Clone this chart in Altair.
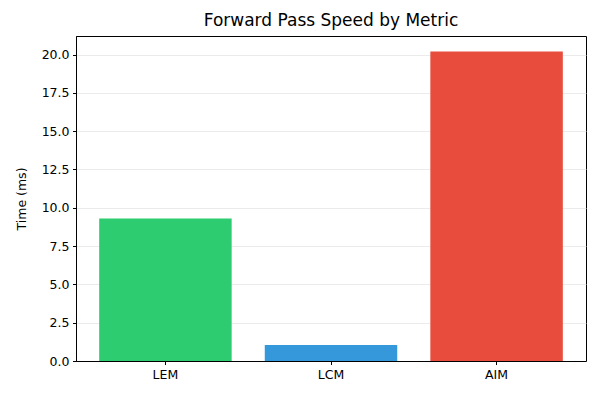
import altair as alt
import pandas as pd

metrics = ["LEM", "LCM", "AIM"]
times_ms = [9.3, 1.05, 20.2]
bar_colors = ["#2ecc71", "#3498db", "#e74c3c"]

df = pd.DataFrame({"metric": metrics, "time": times_ms})

FONT = "DejaVu Sans"

chart = alt.Chart(df).mark_bar(opacity=1).encode(
    x=alt.X("metric:N", sort=metrics, title=None,
            scale=alt.Scale(paddingInner=0.2, paddingOuter=0.14),
            axis=alt.Axis(labelAngle=0, grid=False, tickSize=3.5, labelPadding=4,
                          labelFontSize=12.5)),
    y=alt.Y("time:Q", title="Time (ms)",
            scale=alt.Scale(domain=[0, 21.21], nice=False, zero=True),
            axis=alt.Axis(values=[0, 2.5, 5, 7.5, 10, 12.5, 15, 17.5, 20], format=".1f",
                          tickSize=3.5, labelPadding=3.5, labelFontSize=12.5,
                          titleFontSize=12.5, titlePadding=13, gridColor="#e6e6e6",
                          gridWidth=0.8)),
    color=alt.Color("metric:N", scale=alt.Scale(domain=metrics, range=bar_colors), legend=None),
).properties(
    width=510,
    height=325,
    autosize=alt.AutoSizeParams(type="none"),
    padding={"left": 68, "top": 28, "right": 6, "bottom": 31},
    title=alt.Title("Forward Pass Speed by Metric", fontSize=17, fontWeight="normal",
                    font=FONT, color="black", offset=6),
).configure_axis(
    labelFont=FONT, titleFont=FONT, labelColor="black", titleColor="black",
    titleFontWeight="normal", domainColor="black", tickColor="black", domainWidth=1,
).configure_view(
    stroke="black", strokeWidth=1,
)

chart.save("out.html", embed_options={"renderer": "svg", "actions": False})
